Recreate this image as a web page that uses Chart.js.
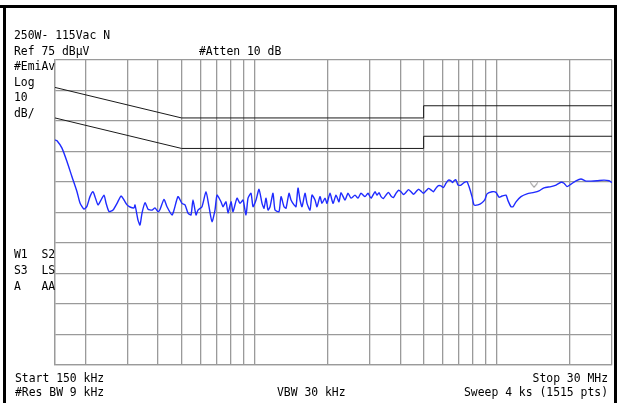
<!DOCTYPE html>
<html>
<head>
<meta charset="utf-8">
<script src="https://cdn.jsdelivr.net/npm/chart.js@4.4.1/dist/chart.umd.min.js"></script>
<style>
html,body{margin:0;padding:0;background:#fff;}
canvas{display:block;}
</style>
</head>
<body>
<canvas id="c" width="620" height="403"></canvas>
<script>
// ---- data ----
const freqGridMHz = [0.15,0.2,0.3,0.4,0.5,0.6,0.7,0.8,0.9,1,2,3,4,5,6,7,8,9,10,20,30];
const levelGridDb = [-25,-15,-5,5,15,25,35,45,55,65,75];

const qpLimitMHz = [0.15,0.5,5,5,30];
const qpLimitDb  = [66,56,56,60,60];
const avLimitMHz = [0.15,0.5,5,5,30];
const avLimitDb  = [56,46,46,50,50];

const traceMHz = [0.150,0.1529,0.1603,0.1681,0.1763,0.1849,0.1903,0.1976,0.2034,0.2092,0.2153,0.2194,0.2258,0.2302,0.2391,0.2437,0.2508,0.2605,0.2706,0.2811,0.2892,0.2976,0.3062,0.3181,0.3211,0.3304,0.3367,0.3432,0.3531,0.3634,0.3775,0.3884,0.3996,0.4073,
0.4231,0.4353,0.4565,0.4653,0.4834,0.5021,0.5166,0.5316,0.5469,0.5574,0.5736,0.5846,0.6073,0.6308,0.6491,0.6679,0.6872,0.7005,0.7276,0.7416,0.7631,0.7778,0.8003,0.8156,0.8473,0.8718,0.8971,0.9230,0.9408,0.9680,0.9866,1.0151,1.0445,1.0748,1.0954,1.1165,1.1379,
1.1598,1.1933,1.2163,1.2634,1.2877,1.3250,1.3504,1.3895,1.4162,1.4572,1.4850,1.5135,1.5426,1.5722,1.6177,1.6488,1.6965,1.7291,1.7792,1.8133,1.8658,1.9017,1.9567,1.9943,2.0521,2.1115,2.1726,2.2355,2.2784,2.3667,2.4352,2.5057,2.6028,2.6781,2.7556,2.8624,2.9453,3.0305,3.1479,3.2084,
3.27,3.3328,3.41,3.4952,3.58,3.6653,3.75,3.8440,3.94,4.0312,4.13,4.2276,4.33,4.4336,4.54,4.6496,4.76,4.8761,4.99,5.1137,5.24,5.3629,5.49,5.6242,5.76,5.8982,6.04,6.1855,6.33,6.4870,6.58,6.6746,6.80,6.9335,7.1343,7.3410,7.5535,7.6986,7.9215,8.0737,8.3868,8.7121,8.9643,
9.1367,9.5811,9.9528,10.241,10.537,10.945,11.156,11.479,11.699,12.038,12.624,13.365,14.287,14.983,15.712,16.796,17.614,18.471,19.006,19.556,20.313,21.303,22.339,23.426,24.567,26.010,27.803,29.160,30.0];
const traceDb = [48.8,48.5,46.1,41.7,36.7,31.8,28.1,26.1,27.1,30.2,31.8,30.2,27.5,28.5,30.7,28.1,25.3,25.8,28.0,30.4,29.1,27.5,26.8,26.5,27.5,22.5,20.9,24.8,28.2,26.1,25.8,26.5,25.3,26.0,
29.3,26.9,24.2,25.8,30.2,28.0,27.5,24.8,24.2,29.1,24.2,25.8,26.9,31.8,26.9,22.0,25.8,30.7,28.5,26.9,28.5,24.8,28.5,25.3,29.7,28.0,29.1,24.2,29.7,31.3,26.9,29.1,32.6,28.0,26.4,29.7,25.8,
26.9,31.3,25.8,25.3,30.2,26.9,26.4,31.3,29.1,27.5,26.9,33.0,29.1,26.9,31.3,28.0,25.8,30.7,29.1,26.9,30.2,28.0,29.7,28.0,31.3,28.0,30.7,28.5,31.5,29.1,31.3,29.7,30.7,29.7,31.3,30.2,31.3,29.7,31.8,30.7,
31.5,30.2,29.6,30.7,31.6,30.4,29.9,31.3,32.3,31.8,30.9,31.6,32.5,31.8,31.0,31.8,32.6,32.0,31.3,32.1,32.9,32.4,31.8,33.0,33.8,33.7,33.2,34.6,35.6,35.4,34.8,35.4,35.7,34.0,34.0,34.8,35.1,33.5,30.2,27.5,27.5,28.2,29.3,
31.1,31.8,31.6,30.0,30.4,30.7,28.9,26.9,26.9,28.5,30.2,31.1,31.6,32.1,33.1,33.5,34.0,34.9,34.6,33.5,34.3,35.4,36.0,35.3,35.3,35.4,35.6,35.4,34.8];

const markerMHz = [14.3];
const markerDb  = [33.9];

const textLines = [
  {t:'250W- 115Vac N', x:14, y:39, a:'left'},
  {t:'Ref 75 dB\u00b5V', x:14, y:54.5, a:'left'},
  {t:'#Atten 10 dB', x:199, y:54.5, a:'left'},
  {t:'#EmiAv', x:14, y:70, a:'left'},
  {t:'Log', x:14, y:85.5, a:'left'},
  {t:'10', x:14, y:101, a:'left'},
  {t:'dB/', x:14, y:116.5, a:'left'},
  {t:'W1  S2', x:14, y:257.5, a:'left'},
  {t:'S3  LS', x:14, y:273.5, a:'left'},
  {t:'A   AA', x:14, y:289.5, a:'left'},
  {t:'Start 150 kHz', x:15, y:381.5, a:'left'},
  {t:'#Res BW 9 kHz', x:15, y:395.5, a:'left'},
  {t:'VBW 30 kHz', x:277, y:395.5, a:'left'},
  {t:'Stop 30 MHz', x:608, y:381.5, a:'right'},
  {t:'Sweep 4 ks (1515 pts)', x:608, y:395.5, a:'right'}
];

// ---- build ----
const zip = (xs, ys) => xs.map((x, i) => ({x: x, y: ys[i]}));

const mk = document.createElement('canvas');
mk.width = 8; mk.height = 6;
(function(){
  const g = mk.getContext('2d');
  g.strokeStyle = '#777'; g.lineWidth = 1;
  g.beginPath(); g.moveTo(0.5,0.5); g.lineTo(4,5); g.lineTo(7.5,0.5); g.stroke();
})();

const framePlugin = {
  id: 'frame',
  afterDraw(chart) {
    const ctx = chart.ctx;
    ctx.save();
    ctx.fillStyle = '#000';
    ctx.fillRect(0, 5, 617, 3);
    ctx.fillRect(3, 5, 3, 398);
    ctx.fillRect(614, 5, 3, 398);
    ctx.font = '11.4px "DejaVu Sans Mono"';
    ctx.textBaseline = 'alphabetic';
    textLines.forEach(l => {
      ctx.textAlign = l.a;
      ctx.fillText(l.t, l.x, l.y);
    });
    ctx.restore();
  }
};

const gridColor = '#9a9a9a';

new Chart(document.getElementById('c'), {
  type: 'line',
  data: {
    datasets: [
      {data: zip(qpLimitMHz, qpLimitDb), borderColor: '#1a1a1a', borderWidth: 1, pointRadius: 0, tension: 0, fill: false},
      {data: zip(avLimitMHz, avLimitDb), borderColor: '#1a1a1a', borderWidth: 1, pointRadius: 0, tension: 0, fill: false},
      {data: zip(traceMHz, traceDb), borderColor: '#1f2bff', borderWidth: 1.4, pointRadius: 0, tension: 0.2, fill: false},
      {data: zip(markerMHz, markerDb), showLine: false, pointStyle: mk, pointRadius: 4, borderColor: '#777'}
    ]
  },
  options: {
    responsive: false,
    animation: false,
    devicePixelRatio: 1,
    layout: {padding: {left: 55, top: 60, right: 8, bottom: 38}},
    plugins: {legend: {display: false}, tooltip: {enabled: false}},
    scales: {
      x: {
        type: 'logarithmic', min: 0.15, max: 30,
        ticks: {display: false},
        grid: {color: gridColor, lineWidth: 1.3, drawTicks: false},
        border: {display: true, color: gridColor, width: 1.3},
        afterBuildTicks: s => { s.ticks = freqGridMHz.map(v => ({value: v})); }
      },
      y: {
        type: 'linear', min: -25, max: 75,
        ticks: {display: false},
        grid: {color: gridColor, lineWidth: 1.3, drawTicks: false},
        border: {display: true, color: gridColor, width: 1.3},
        afterBuildTicks: s => { s.ticks = levelGridDb.map(v => ({value: v})); }
      }
    }
  },
  plugins: [framePlugin]
});
</script>
</body>
</html>
